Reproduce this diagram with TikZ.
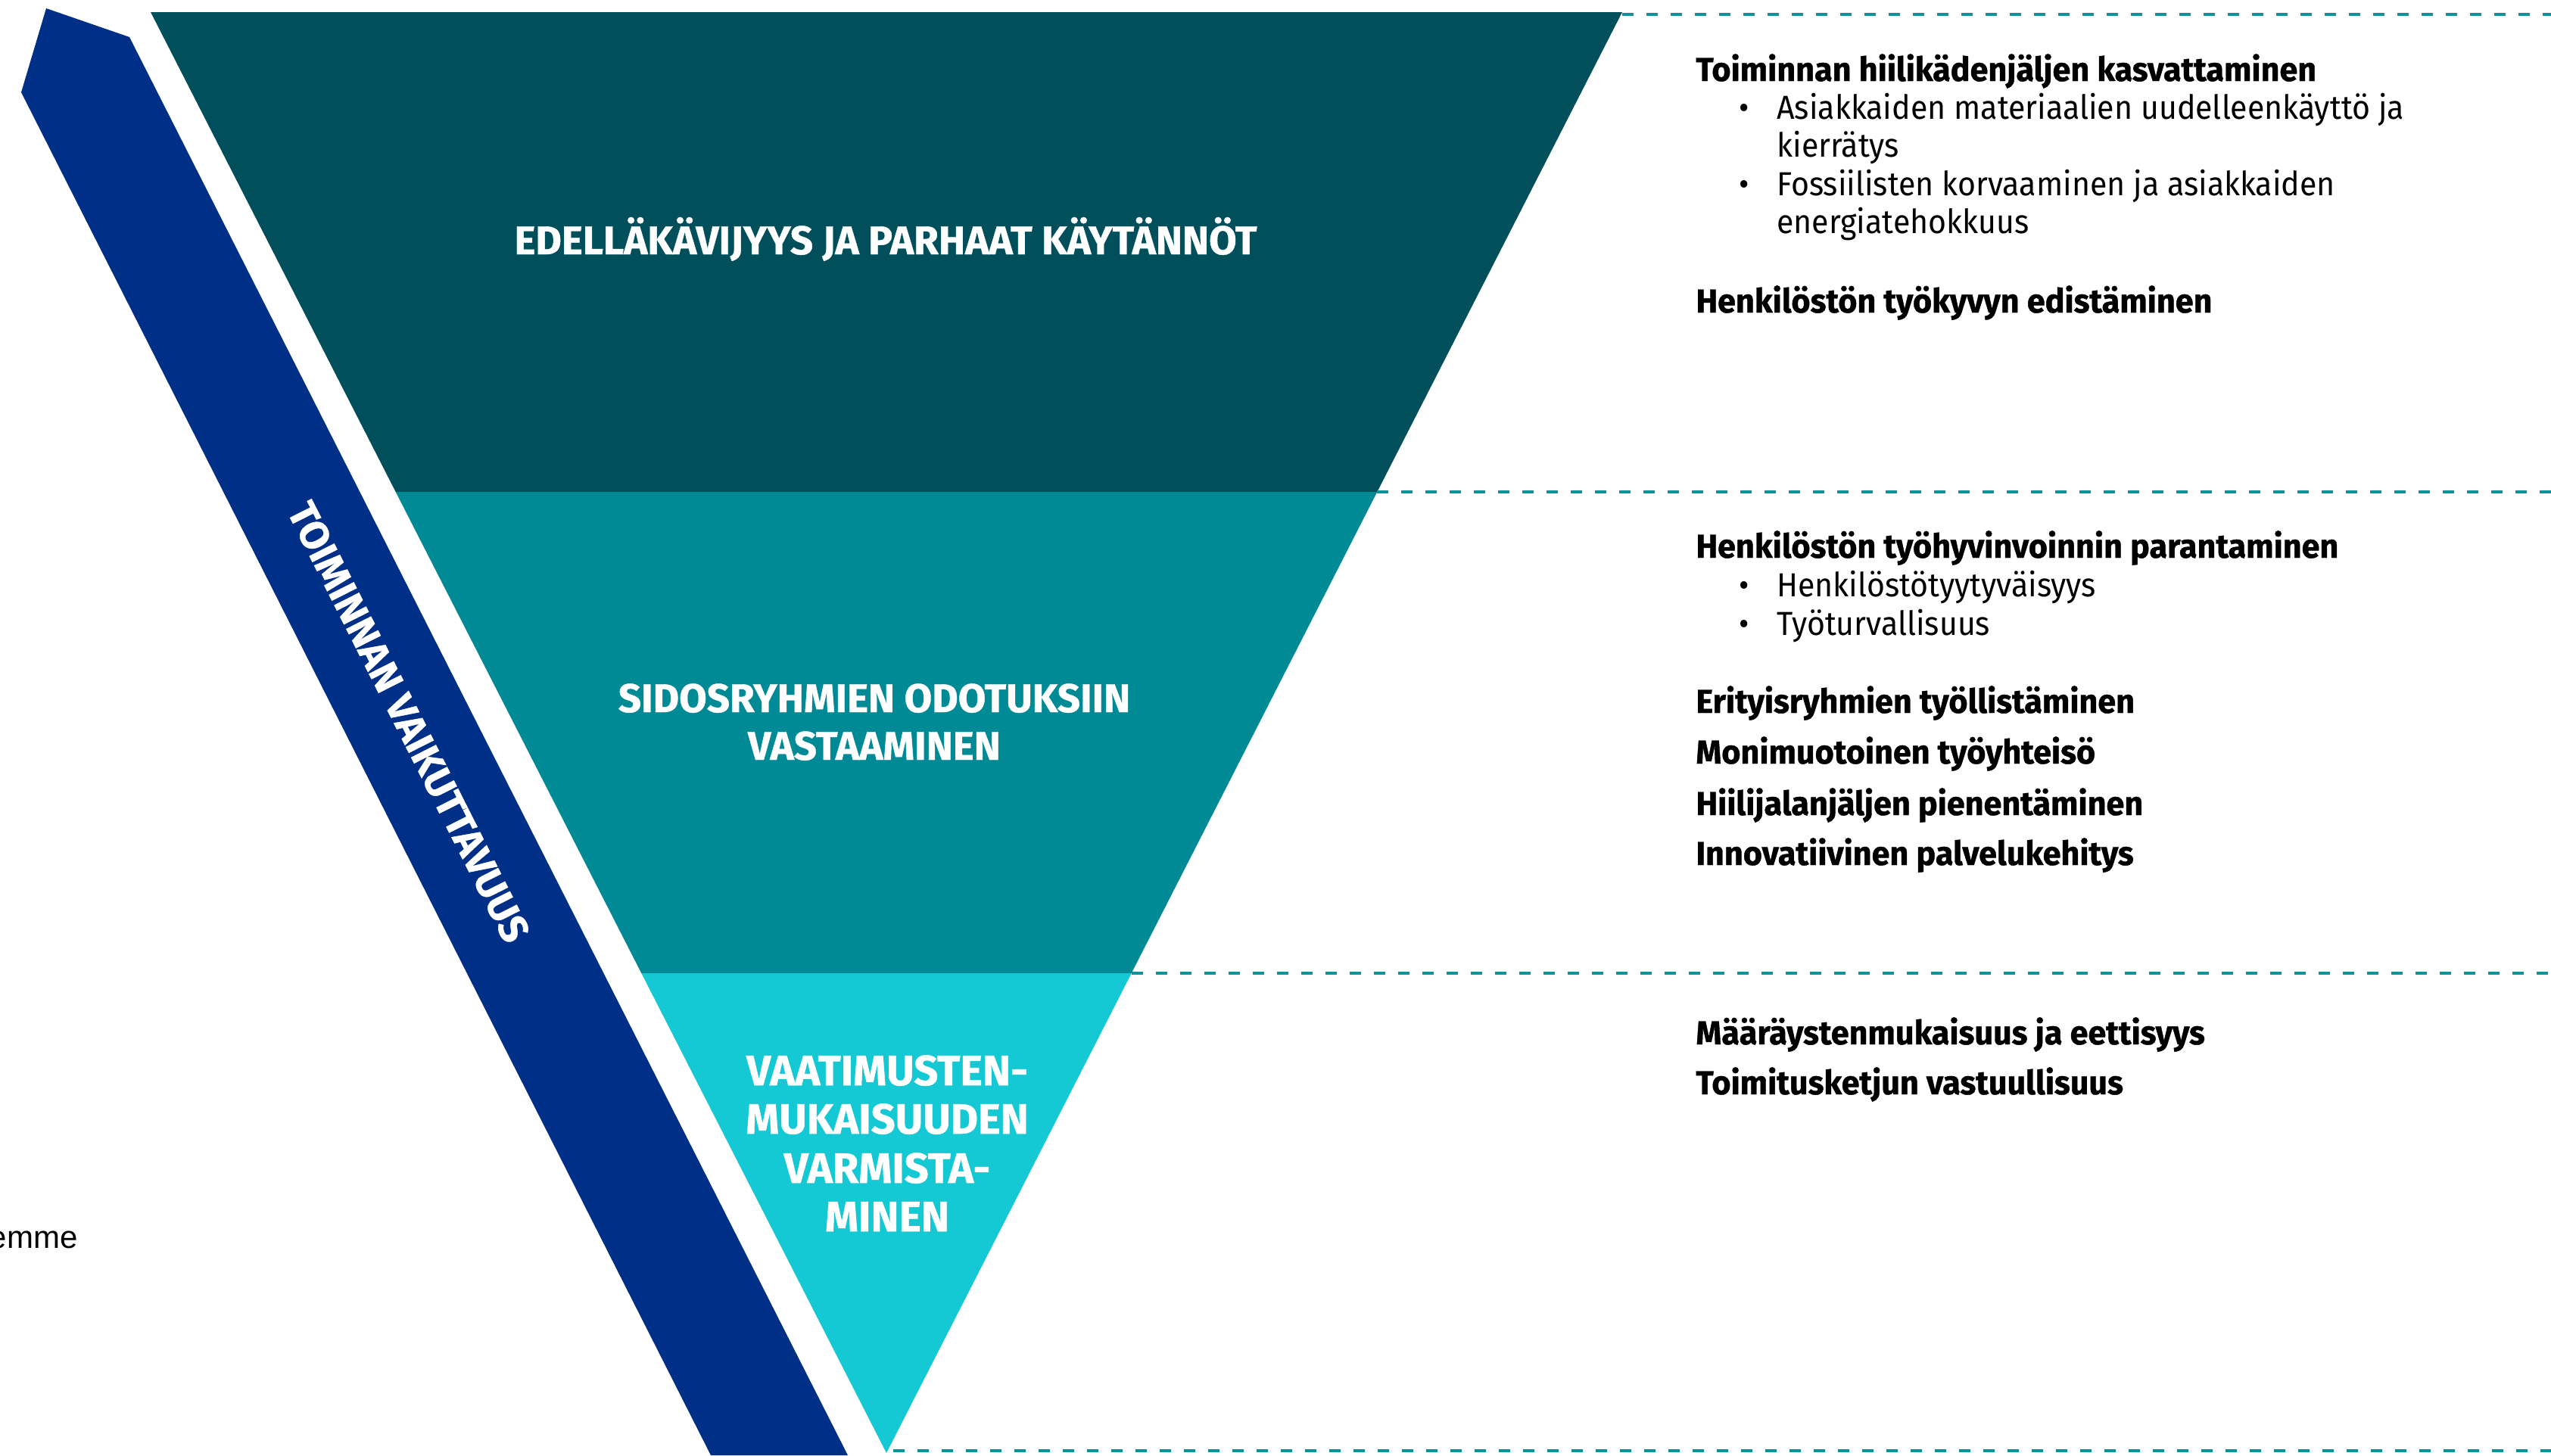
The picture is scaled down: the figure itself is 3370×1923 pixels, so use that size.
\documentclass[tikz,border=0pt]{standalone}
\usepackage{fontspec}
\setmainfont{Fira Sans}
\newfontfamily\bodyfont{Fira Sans}[FakeStretch=0.934]
\newfontfamily\headfont{Fira Sans Bold}[FakeStretch=0.98, FakeBold=0.9]
\newfontfamily\labfont{Fira Sans Bold}[FakeStretch=1.0, FakeBold=0.8]
\newfontfamily\arialfont{Liberation Sans}
\definecolor{darkteal}{HTML}{004F5A}
\definecolor{midteal}{HTML}{008A96}
\definecolor{lightteal}{HTML}{14C8D4}
\definecolor{arrowblue}{HTML}{002F87}
\definecolor{dashteal}{HTML}{0A939B}
\tikzset{
  head/.style={anchor=base west, inner sep=0pt, font=\headfont\fontsize{22}{26}\selectfont},
  itemtext/.style={anchor=base west, inner sep=0pt, font=\bodyfont\fontsize{22}{26}\selectfont},
  bul/.style={anchor=base, inner sep=0pt, font=\bodyfont\fontsize{22}{26}\selectfont},
  lab/.style={anchor=base, inner sep=0pt, text=white, font=\labfont\fontsize{26.5}{32}\selectfont},
  labbig/.style={anchor=base, inner sep=0pt, text=white, font=\labfont\fontsize{28}{32}\selectfont},
  sep/.style={draw=dashteal, line width=1.8pt, dash pattern=on 7.5pt off 8.5pt}
}
\begin{document}
\begin{tikzpicture}[x=0.5pt,y=-0.5pt]
\useasboundingbox (0,0) rectangle (3370,1923);
% blue arrow band
\fill[arrowblue] (61,11) -- (171,49) -- (1120,1923) -- (939,1923) -- (28,122) -- cycle;
% triangle bands
\coordinate (tl) at (199,16);
\coordinate (tr) at (2143,16);
\coordinate (ml1) at (522.7,650);
\coordinate (mr1) at (1819.3,650);
\coordinate (ml2) at (847.3,1286);
\coordinate (mr2) at (1494.7,1286);
\coordinate (apex) at (1171,1920);
\fill[darkteal] (tl) -- (tr) -- (mr1) -- (ml1) -- cycle;
\fill[midteal] (ml1) -- (mr1) -- (mr2) -- (ml2) -- cycle;
\fill[lightteal] (ml2) -- (mr2) -- (apex) -- cycle;
% dashed separators
\coordinate (d0) at (2143,19);
\coordinate (e0) at (3370,19);
\coordinate (d1) at (1819.3,650);
\coordinate (e1) at (3370,650);
\coordinate (d2) at (1494.7,1286);
\coordinate (e2) at (3370,1286);
\coordinate (d3) at (1180,1917);
\coordinate (e3) at (3370,1917);
\draw[sep] (d0) -- (e0);
\draw[sep] (d1) -- (e1);
\draw[sep] (d2) -- (e2);
\draw[sep] (d3) -- (e3);
% triangle labels
\node[lab] (t1) at (1170,336) {EDELLÄKÄVIJYYS JA PARHAAT KÄYTÄNNÖT};
\node[lab] (t2a) at (1155,941) {SIDOSRYHMIEN ODOTUKSIIN};
\node[lab] (t2b) at (1155,1004) {VASTAAMINEN};
\node[labbig] (t3a) at (1172,1434) {VAATIMUSTEN-};
\node[labbig] (t3b) at (1172,1498) {MUKAISUUDEN};
\node[labbig] (t3c) at (1172,1563) {VARMISTA-};
\node[labbig] (t3d) at (1172,1627) {MINEN};
% arrow label
\node[inner sep=0pt, text=white, rotate=-63.2, font=\labfont\fontsize{26.5}{32}\selectfont] (arrlab) at (540,954) {TOIMINNAN VAIKUTTAVUUS};
% left cut text
\node[anchor=base east, inner sep=0pt, font=\arialfont\fontsize{21}{25}\selectfont] (emme) at (103,1649) {emme};
% right column
\node[head] (h1) at (2240,107) {Toiminnan hiilikädenjäljen kasvattaminen};
\node[bul] (b1) at (2304,157) {•};
\node[itemtext] (i1a) at (2347,157) {Asiakkaiden materiaalien uudelleenkäyttö ja};
\node[itemtext] (i1b) at (2347,207) {kierrätys};
\node[bul] (b2) at (2304,258) {•};
\node[itemtext] (i2a) at (2347,258) {Fossiilisten korvaaminen ja asiakkaiden};
\node[itemtext] (i2b) at (2347,308) {energiatehokkuus};
\node[head] (h2) at (2240,413) {Henkilöstön työkyvyn edistäminen};
\node[head] (h3) at (2240,737) {Henkilöstön työhyvinvoinnin parantaminen};
\node[bul] (b3) at (2304,788) {•};
\node[itemtext] (i3) at (2347,788) {Henkilöstötyytyväisyys};
\node[bul] (b4) at (2304,839) {•};
\node[itemtext] (i4) at (2347,839) {Työturvallisuus};
\node[head] (h4) at (2240,942) {Erityisryhmien työllistäminen};
\node[head] (h5) at (2240,1009) {Monimuotoinen työyhteisö};
\node[head] (h6) at (2240,1077) {Hiilijalanjäljen pienentäminen};
\node[head] (h7) at (2240,1143) {Innovatiivinen palvelukehitys};
\node[head] (h8) at (2240,1380) {Määräystenmukaisuus ja eettisyys};
\node[head] (h9) at (2240,1446) {Toimitusketjun vastuullisuus};
\end{tikzpicture}
\end{document}
